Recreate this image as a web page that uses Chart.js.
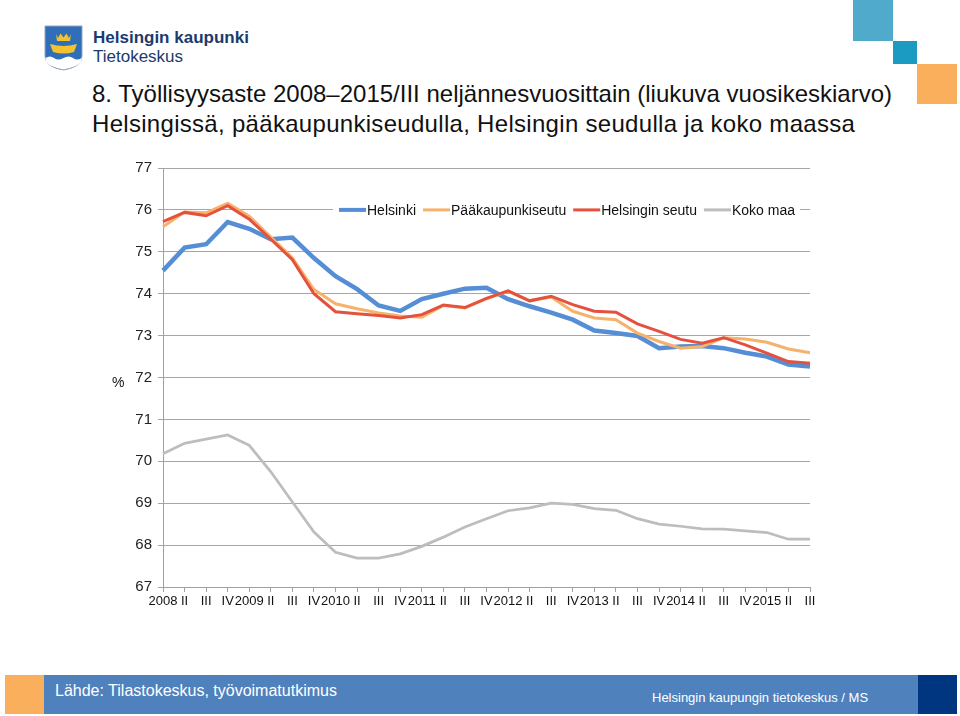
<!DOCTYPE html>
<html lang="fi">
<head>
<meta charset="UTF-8">
<title>Työllisyysaste 2008–2015/III</title>
<script src="https://cdn.jsdelivr.net/npm/chart.js"></script>
<style>
  body {
    margin: 0;
    width: 960px;
    height: 716px;
    position: relative;
    overflow: hidden;
    background: #fff;
    font-family: 'Liberation Sans', Arial, sans-serif;
  }
  .logo { position: absolute; left: 44px; top: 25px; width: 39px; height: 46px; }
  .org1 { position: absolute; left: 93px; top: 28px; font-size: 17px; font-weight: bold; color: #1b3a6e; }
  .org2 { position: absolute; left: 93px; top: 47px; font-size: 17px; color: #1b3a6e; }
  .sq { position: absolute; }
  .title {
    position: absolute; left: 92px; top: 79px;
    font-size: 24px; line-height: 30px; color: #111; white-space: nowrap;
  }
  .title span { display: block; }
  .title span.l2 { letter-spacing: 0.3px; }
  #wrap { position: absolute; left: 90px; top: 150px; width: 740px; height: 467px; }
  .foot { position: absolute; top: 675px; height: 39px; }
  .src { position: absolute; left: 55px; top: 682px; font-size: 16px; color: #fff; }
  .sign { position: absolute; left: 652px; top: 690px; font-size: 13px; color: #fff; }
</style>
</head>
<body>
  <svg class="logo" viewBox="0 0 39 46">
    <path d="M1 1 H38 V31 Q38 42 19.5 45 Q1 42 1 31 Z" fill="#2f6fba" stroke="#9aa4b0" stroke-width="1"/>
    <path d="M1.5 33 Q6 30 10 33 T19.5 33 T29 33 T37.5 33 V36 Q34 42 19.5 44.5 Q5 42 1.5 36 Z" fill="#fff"/>
    <path d="M12 9 L14 13 L16.5 8.5 L19.5 12.5 L22.5 8.5 L25 13 L27 9 L26 16 H13 Z" fill="#f2c230"/>
    <path d="M6 19 Q19.5 23 33 19 L30 27 Q19.5 30 9 27 Z" fill="#f2c230"/>
  </svg>
  <div class="org1">Helsingin kaupunki</div>
  <div class="org2">Tietokeskus</div>

  <div class="sq" style="left:853px;top:0;width:40px;height:41px;background:#4faacb;"></div>
  <div class="sq" style="left:893px;top:41px;width:24px;height:23px;background:#1b9ac2;"></div>
  <div class="sq" style="left:917px;top:64px;width:40px;height:40px;background:#f9af5c;"></div>

  <div class="title"><span>8. Työllisyysaste 2008–2015/III neljännesvuosittain (liukuva vuosikeskiarvo)</span><span class="l2">Helsingissä, pääkaupunkiseudulla, Helsingin seudulla ja koko maassa</span></div>

  <div id="wrap"><canvas id="chart" width="740" height="467"></canvas></div>

  <div class="foot" style="left:5px;width:39px;background:#f9af5c;"></div>
  <div class="foot" style="left:44px;width:874px;background:#4f81bd;"></div>
  <div class="foot" style="left:918px;width:39px;background:#003580;"></div>
  <div class="src">Lähde: Tilastokeskus, työvoimatutkimus</div>
  <div class="sign">Helsingin kaupungin tietokeskus / MS</div>

<script>
const quarters = [
  '2008', 'II', 'III', 'IV', '2009', 'II', 'III', 'IV', '2010', 'II', 'III', 'IV',
  '2011', 'II', 'III', 'IV', '2012', 'II', 'III', 'IV', '2013', 'II', 'III', 'IV',
  '2014', 'II', 'III', 'IV', '2015', 'II', 'III'
];

const seriesNames = ['Helsinki', 'Pääkaupunkiseutu', 'Helsingin seutu', 'Koko maa'];
const seriesColors = ['#558ed5', '#f6b26b', '#e4523e', '#bdbdbd'];

const helsinki = [
  74.55, 75.10, 75.18, 75.71, 75.55, 75.30, 75.34, 74.85, 74.42, 74.11, 73.72, 73.59,
  73.87, 74.00, 74.12, 74.14, 73.87, 73.70, 73.55, 73.38, 73.12, 73.06, 72.99, 72.70,
  72.74, 72.75, 72.70, 72.59, 72.50, 72.31, 72.26
];
const pks = [
  75.60, 75.95, 75.93, 76.16, 75.85, 75.35, 74.85, 74.10, 73.76, 73.64, 73.54, 73.47,
  73.44, 73.72, 73.66, 73.88, 74.06, 73.83, 73.92, 73.58, 73.42, 73.38, 73.06, 72.86,
  72.70, 72.74, 72.95, 72.92, 72.84, 72.68, 72.59
];
const hSeutu = [
  75.72, 75.94, 75.86, 76.10, 75.78, 75.30, 74.81, 74.00, 73.57, 73.52, 73.48, 73.42,
  73.50, 73.73, 73.67, 73.89, 74.07, 73.83, 73.94, 73.74, 73.58, 73.56, 73.28, 73.10,
  72.91, 72.82, 72.95, 72.78, 72.58, 72.38, 72.34
];
const kokoMaa = [
  70.18, 70.43, 70.53, 70.63, 70.38, 69.75, 69.03, 68.31, 67.83, 67.69, 67.69, 67.79,
  67.97, 68.19, 68.43, 68.63, 68.82, 68.89, 69.00, 68.97, 68.87, 68.83, 68.63, 68.50,
  68.45, 68.39, 68.38, 68.34, 68.30, 68.14, 68.14
];

const yTicks = [67, 68, 69, 70, 71, 72, 73, 74, 75, 76, 77];

const allSeries = [helsinki, pks, hSeutu, kokoMaa];
const widths = [4.5, 3, 3, 2.75];

// legend sits inside the plot, on the 76 gridline, with a white box behind it
const innerLegend = {
  id: 'innerLegend',
  afterDatasetsDraw(chart) {
    const ctx = chart.ctx;
    const y = chart.scales.y.getPixelForValue(76);
    const left = 243, right = 710;
    ctx.save();
    ctx.fillStyle = '#fff';
    ctx.fillRect(left, y - 10, right - left, 20);
    ctx.font = '14px "Liberation Sans", Arial, sans-serif';
    ctx.textBaseline = 'middle';
    let x = 249;
    seriesNames.forEach((name, i) => {
      ctx.strokeStyle = seriesColors[i];
      ctx.lineWidth = i === 0 ? 4 : 3;
      ctx.beginPath();
      ctx.moveTo(x, y);
      ctx.lineTo(x + 27, y);
      ctx.stroke();
      x += 28;
      ctx.fillStyle = '#111';
      ctx.fillText(name, x, y + 1);
      x += ctx.measureText(name).width + 7;
    });
    // percent sign next to the y axis
    ctx.fillText('%', chart.chartArea.left - 51, chart.scales.y.getPixelForValue(72) + 6);
    ctx.restore();
  }
};

new Chart(document.getElementById('chart'), {
  type: 'line',
  data: {
    labels: quarters,
    datasets: allSeries.map((data, i) => ({
      label: seriesNames[i],
      data,
      borderColor: seriesColors[i],
      borderWidth: widths[i],
      pointRadius: 0,
      tension: 0,
      fill: false,
      order: 4 - i
    }))
  },
  options: {
    responsive: false,
    animation: false,
    layout: { padding: { top: 18, right: 20, bottom: 0, left: 0 } },
    plugins: { legend: { display: false }, tooltip: { enabled: false } },
    scales: {
      x: {
        grid: { drawOnChartArea: false, color: '#a0a0a0', tickLength: 5 },
        border: { color: '#a0a0a0' },
        ticks: {
          autoSkip: false, maxRotation: 0, padding: 2, color: '#111',
          font: { size: 13, family: '"Liberation Sans", Arial, sans-serif' }
        },
        afterFit(scale) { scale.height = 30; }
      },
      y: {
        min: 67, max: 77,
        afterBuildTicks(scale) { scale.ticks = yTicks.map(v => ({ value: v })); },
        grid: { color: '#a6a6a6', tickLength: 5 },
        border: { color: '#a0a0a0' },
        ticks: {
          padding: 6, color: '#222',
          font: { size: 15, family: '"Liberation Sans", Arial, sans-serif' }
        },
        afterFit(scale) { scale.width = 73; }
      }
    }
  },
  plugins: [innerLegend]
});
</script>
</body>
</html>
